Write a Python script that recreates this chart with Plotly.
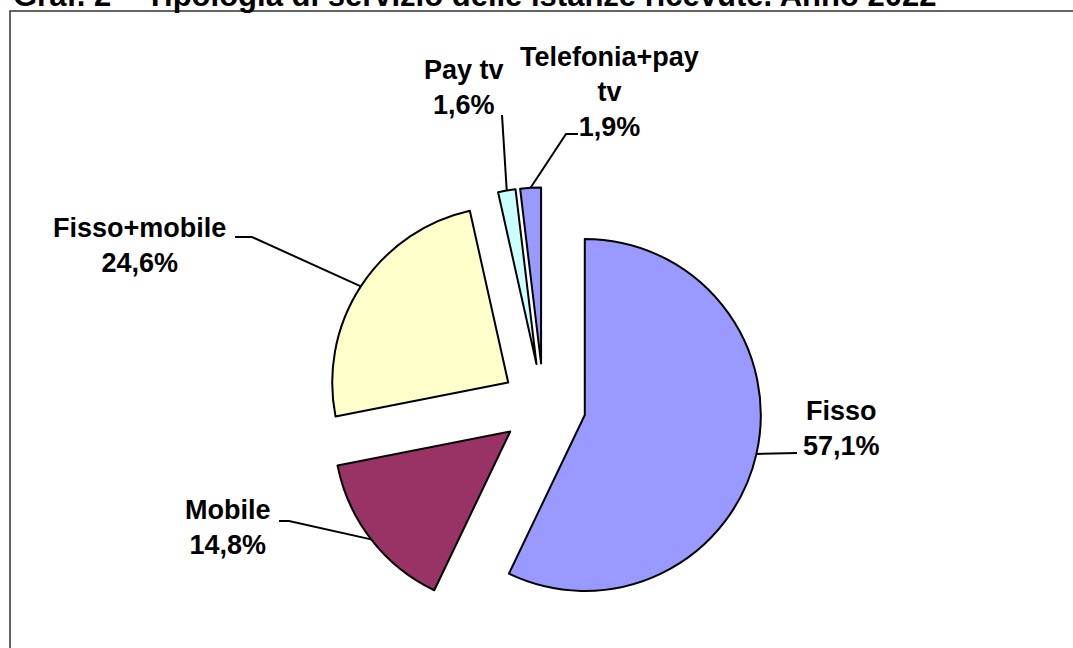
import math
import plotly.graph_objects as go

# ---- data ----
categories = ["Fisso", "Mobile", "Fisso+mobile", "Pay tv", "Telefonia+pay tv"]
values = [57.1, 14.8, 24.6, 1.6, 1.9]
label_names = ["Fisso", "Mobile", "Fisso+mobile", "Pay tv", "Telefonia+pay<br>tv"]
colors = ["#9999FF", "#993366", "#FFFFCC", "#CCFFFF", "#9999FF"]
title_text = "Graf. 2 – Tipologia di servizio delle istanze ricevute. Anno 2022"

# ---- layout (pixels) ----
W, H = 1073, 648
PULL = 0.24
R = 176.0                      # slice radius in px
CX, CY = 543.6, 405.6          # pie centre in px (from top-left)
FONT = "Liberation Sans, Arial, sans-serif"
FS = 27

# label text centres and leader elbow / end points (px)
label_pos = [(841, 428), (228, 527), (139, 245), (464, 88), (609, 92)]
leader_elbow = [(797, 453), (289, 521), (252, 237), (502, 115), (566, 134)]
leader_end = [(797, 453), (279, 521), (235, 237), (502, 115), (578, 134)]


def px(x):
    return x / W


def py(y):
    return 1 - y / H


half = R * (1 + PULL)
domain_x = [px(CX - half), px(CX + half)]
domain_y = [py(CY + half), py(CY - half)]

fig = go.Figure(go.Pie(
    labels=categories,
    values=values,
    sort=False,
    direction="clockwise",
    rotation=0,
    pull=[PULL] * len(values),
    marker=dict(colors=colors, line=dict(color="#000000", width=2)),
    textinfo="none",
    hoverinfo="label+percent",
    domain=dict(x=domain_x, y=domain_y),
    showlegend=False,
))

total = sum(values)
shapes = []
annotations = []
cum = 0.0
for i, v in enumerate(values):
    frac = v / total
    mid = (cum + frac / 2) * 2 * math.pi
    cum += frac
    # point on the arc at the slice bisector (pulled slice)
    ax_ = CX + (1 + PULL) * R * math.sin(mid)
    ay_ = CY - (1 + PULL) * R * math.cos(mid)
    ex, ey = leader_elbow[i]
    fx, fy = leader_end[i]
    path = f"M {px(ax_)} {py(ay_)} L {px(ex)} {py(ey)} L {px(fx)} {py(fy)}"
    shapes.append(dict(type="path", xref="paper", yref="paper", path=path,
                       line=dict(color="#000000", width=2)))
    pct = f"{frac * 100:.1f}".replace(".", ",") + "%"
    lx, ly = label_pos[i]
    annotations.append(dict(
        x=px(lx), y=py(ly), xref="paper", yref="paper",
        text=f"{label_names[i]}<br>{pct}", showarrow=False,
        xanchor="center", yanchor="middle", align="center",
        font=dict(family=FONT, size=FS, color="#000000", weight="bold"),
    ))

# outer frame (only top and left edges are visible in the crop)
shapes.insert(0, dict(type="path", xref="paper", yref="paper",
                      path=f"M {px(10)} -0.1 L {px(10)} {py(11)} L 1.1 {py(11)}",
                      line=dict(color="#333333", width=1.5), layer="below"))

annotations.append(dict(
    x=px(11), y=py(14.5), xref="paper", yref="paper", text=title_text,
    showarrow=False, xanchor="left", yanchor="bottom",
    font=dict(family=FONT, size=31, color="#000000", weight="bold"),
))

fig.update_layout(
    width=W, height=H,
    margin=dict(l=0, r=0, t=0, b=0),
    paper_bgcolor="#FFFFFF", plot_bgcolor="#FFFFFF",
    shapes=shapes, annotations=annotations,
    separators=",.",
)

fig.write_html(
    "out.html",
    config={"displayModeBar": False},
    post_script="document.body.style.margin='0';document.body.style.overflow='hidden';",
)
